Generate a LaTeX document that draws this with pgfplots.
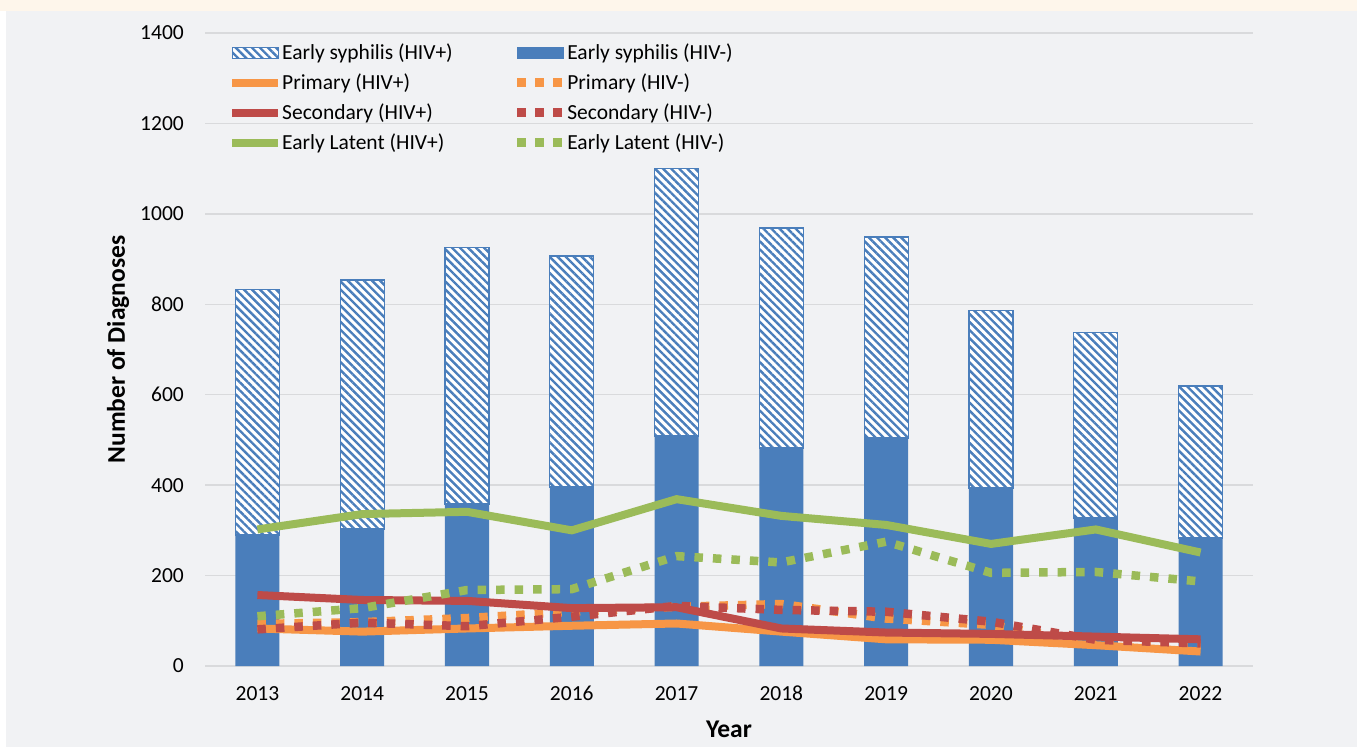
\documentclass[border=0pt]{standalone}
\usepackage{pgfplots}
\pgfplotsset{compat=1.18}
\usepackage{pgfplotstable}
\usetikzlibrary{patterns.meta}
\usepackage{fontspec}
\setmainfont{Carlito}
\definecolor{barblue}{HTML}{4A7EBB}
\definecolor{lorange}{HTML}{F79646}
\definecolor{lred}{HTML}{BE4B48}
\definecolor{lgreen}{HTML}{9BBB59}
\definecolor{bggray}{HTML}{F1F2F4}
\definecolor{topcream}{HTML}{FEF6EB}
\definecolor{gridgray}{HTML}{D9DADC}

\pgfplotstableread{
year neg pos
2013 290 542
2014 303 551
2015 358 567
2016 396 511
2017 509 591
2018 482 487
2019 504 445
2020 394 393
2021 327 410
2022 283 336
}\bars

\pgfplotstableread{
year primpos primneg secpos secneg latpos latneg
2013 83 93 157 81 302 110
2014 76 97 146 96 336 128
2015 83 106 144 88 341 168
2016 89 120 128 109 300 170
2017 94 131 130 133 369 243
2018 76 137 83 124 332 229
2019 59 105 74 120 312 275
2020 58 91 71 98 270 206
2021 46 50 65 58 302 208
2022 32 46 59 50 251 187
}\lines

\begin{document}
\fontsize{21.5}{25}\selectfont
\begin{tikzpicture}
\fill[bggray] (0pt,0pt) rectangle (1357pt,747pt);
\fill[white] (0pt,0pt) rectangle (6pt,736pt);
\fill[topcream] (0pt,736pt) rectangle (1357pt,747pt);
\begin{axis}[
  at={(205pt,81pt)}, anchor=south west,
  scale only axis, width=1048pt, height=633pt,
  xmin=2012.5, xmax=2022.5, ymin=0, ymax=1400,
  ybar stacked, bar width=0.42,
  xtick={2013,...,2022}, ytick={0,200,...,1400},
  /pgf/number format/1000 sep={},
  /pgf/number format/assume math mode=true,
  tick label style={font=\fontsize{21.5}{25}\selectfont, inner sep=0pt},
  xticklabel shift=20pt, yticklabel shift=21pt,
  major tick length=0pt,
  axis line style={draw=none},
  ymajorgrids, grid style={gridgray, line width=1.5pt},
  xlabel={Year}, ylabel={Number of Diagnoses},
  label style={font=\fontsize{25.5}{29}\selectfont\bfseries},
  xlabel style={at={(axis description cs:0.5,0)}, anchor=north, yshift=-55pt, inner sep=0pt},
  ylabel style={at={(axis description cs:0,0.5)}, anchor=center, yshift=87pt},
  clip=false,
]
\addplot[fill=barblue, draw=none] table[x=year, y=neg] {\bars};
\addplot[draw=barblue, line width=1.3pt, fill=white,
  postaction={pattern={Lines[angle=-45, distance=5.7pt, line width=2.4pt]}, pattern color=barblue}]
  table[x=year, y=pos] {\bars};
\end{axis}
\begin{axis}[
  at={(205pt,81pt)}, anchor=south west,
  scale only axis, width=1048pt, height=633pt,
  xmin=2012.5, xmax=2022.5, ymin=0, ymax=1400,
  axis line style={draw=none}, xtick=\empty, ytick=\empty,
  legend columns=2,
  legend style={at={(axis description cs:0,1)}, anchor=north west,
    xshift=23pt, yshift=-11pt, draw=none, fill=none, inner sep=0pt,
    font=\fontsize{21.5}{25}\selectfont,
    row sep=10pt,
    nodes={inner sep=0pt, text height=15pt, text depth=5pt, anchor=base west, xshift=4pt},
    /tikz/every even column/.append style={column sep=60pt}},
  legend cell align=left,
]
\addplot[lorange, line width=8pt, forget plot] table[x=year, y=primpos] {\lines};
\addplot[lorange, line width=8.5pt, dash pattern=on 8.5pt off 10pt, forget plot] table[x=year, y=primneg] {\lines};
\addplot[lred, line width=8.5pt, dash pattern=on 8.5pt off 10pt, forget plot] table[x=year, y=secneg] {\lines};
\addplot[lred, line width=8pt, forget plot] table[x=year, y=secpos] {\lines};
\addplot[lgreen, line width=8.5pt, dash pattern=on 8.5pt off 10pt, forget plot] table[x=year, y=latneg] {\lines};
\addplot[lgreen, line width=8pt, forget plot] table[x=year, y=latpos] {\lines};
\addlegendimage{legend image code/.code={\draw[draw=barblue, line width=1.3pt, fill=white, postaction={pattern={Lines[angle=-45, distance=5.7pt, line width=2.4pt]}, pattern color=barblue}] (0pt,1pt) rectangle (46pt,12pt);}}
\addlegendentry{Early syphilis (HIV+)}
\addlegendimage{legend image code/.code={\fill[barblue] (0pt,1pt) rectangle (46pt,12pt);}}
\addlegendentry{Early syphilis (HIV-)}
\addlegendimage{legend image code/.code={\draw[lorange, line width=8pt] (0pt,6.5pt) -- (46pt,6.5pt);}}
\addlegendentry{Primary (HIV+)}
\addlegendimage{legend image code/.code={\draw[lorange, line width=8.5pt, dash pattern=on 8.5pt off 9.5pt] (0pt,6.5pt) -- (46pt,6.5pt);}}
\addlegendentry{Primary (HIV-)}
\addlegendimage{legend image code/.code={\draw[lred, line width=8pt] (0pt,6.5pt) -- (46pt,6.5pt);}}
\addlegendentry{Secondary (HIV+)}
\addlegendimage{legend image code/.code={\draw[lred, line width=8.5pt, dash pattern=on 8.5pt off 9.5pt] (0pt,6.5pt) -- (46pt,6.5pt);}}
\addlegendentry{Secondary (HIV-)}
\addlegendimage{legend image code/.code={\draw[lgreen, line width=8pt] (0pt,6.5pt) -- (46pt,6.5pt);}}
\addlegendentry{Early Latent (HIV+)}
\addlegendimage{legend image code/.code={\draw[lgreen, line width=8.5pt, dash pattern=on 8.5pt off 9.5pt] (0pt,6.5pt) -- (46pt,6.5pt);}}
\addlegendentry{Early Latent (HIV-)}
\end{axis}
\end{tikzpicture}
\end{document}
